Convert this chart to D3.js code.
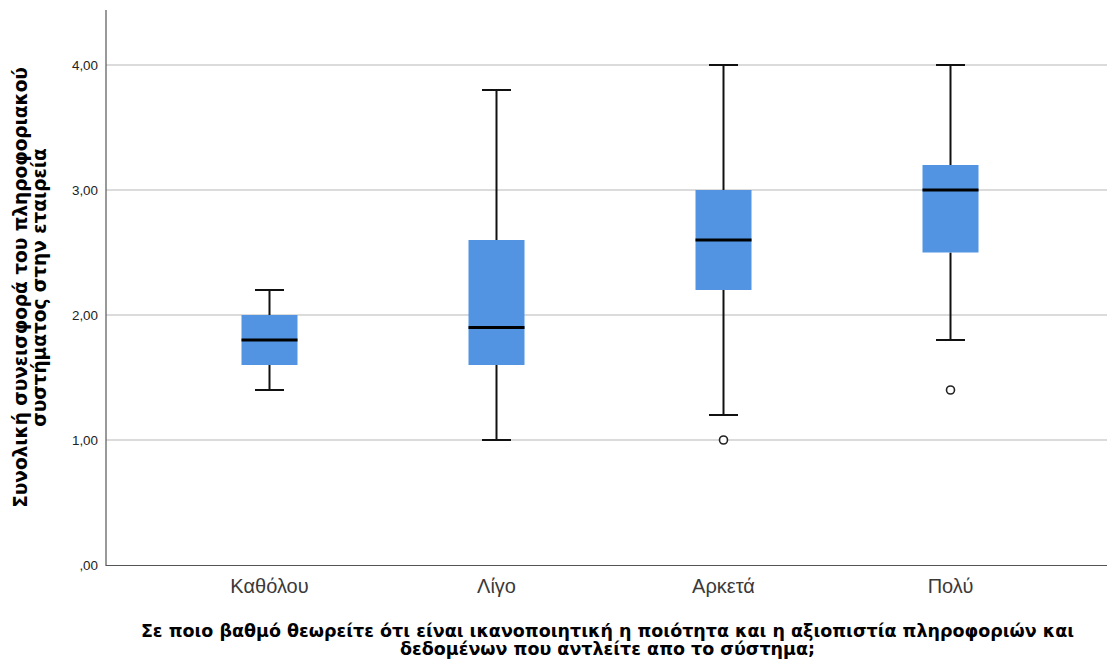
<!DOCTYPE html>
<html>
<head>
<meta charset="utf-8">
<script src="https://cdn.jsdelivr.net/npm/d3@7/dist/d3.min.js"></script>
<style>
  html, body { margin: 0; padding: 0; background: #fff; }
  svg { display: block; font-family: "Liberation Sans", Arial, sans-serif; }
</style>
</head>
<body>
<svg id="chart" width="1107" height="666"></svg>
<script>
// Response groups on the x axis
const categories = ["Καθόλου", "Λίγο", "Αρκετά", "Πολύ"];
// Five-number summaries per group
const whiskerLow  = [1.4, 1.0, 1.2, 1.8];
const q1          = [1.6, 1.6, 2.2, 2.5];
const median      = [1.8, 1.9, 2.6, 3.0];
const q3          = [2.0, 2.6, 3.0, 3.2];
const whiskerHigh = [2.2, 3.8, 4.0, 4.0];
// Outliers: [group index, value]
const outliers = [[2, 1.0], [3, 1.4]];
// Y axis ticks
const yTicks = [0, 1, 2, 3, 4];
const yTickLabels = [",00", "1,00", "2,00", "3,00", "4,00"];

const xTitle = [
  "Σε ποιο βαθμό θεωρείτε ότι είναι ικανοποιητική η ποιότητα και η αξιοπιστία πληροφοριών και",
  "δεδομένων που αντλείτε απο το σύστημα;"
];
const yTitle = [
  "Συνολική συνεισφορά του πληροφοριακού",
  "συστήματος στην εταιρεία"
];

const svg = d3.select("#chart");
const plotLeft = 106, plotRight = 1107, plotTop = 10, plotBottom = 565;
const titleFont = "'DejaVu Sans', 'Liberation Sans', Arial, sans-serif";

const x = d3.scaleBand().domain(categories).range([156, 1064]).padding(0);
const y = d3.scaleLinear().domain([0, 4.44]).range([plotBottom, plotBottom - 4.44 * 125]);

const boxW = 56, capW = 29;

// gridlines
svg.append("g")
  .selectAll("line")
  .data(yTicks.filter(d => d > 0))
  .join("line")
  .attr("x1", plotLeft).attr("x2", plotRight)
  .attr("y1", d => y(d)).attr("y2", d => y(d))
  .attr("stroke", "#cfcfcf").attr("stroke-width", 1.5);

// y axis with text tick labels
const yAxis = d3.axisLeft(y)
  .tickValues(yTicks)
  .tickSize(0)
  .tickPadding(8)
  .tickFormat((d, i) => yTickLabels[i]);
const gy = svg.append("g").attr("transform", `translate(${plotLeft},0)`).call(yAxis);
gy.select(".domain").remove();
gy.selectAll("text").attr("font-size", 13.4).attr("fill", "#222")
  .style("font-family", "'Liberation Sans', Arial, sans-serif");

// x axis labels
const xAxis = d3.axisBottom(x).tickSize(0).tickPadding(14);
const gx = svg.append("g").attr("transform", `translate(0,${plotBottom})`).call(xAxis);
gx.select(".domain").remove();
gx.selectAll("text").attr("font-size", 20).attr("fill", "#3a3a3a")
  .style("font-family", "'Liberation Sans', Arial, sans-serif");

// frame lines
svg.append("line")
  .attr("x1", plotLeft).attr("x2", plotLeft)
  .attr("y1", plotTop).attr("y2", plotBottom + 1)
  .attr("stroke", "#555").attr("stroke-width", 1.2);
svg.append("line")
  .attr("x1", plotLeft).attr("x2", plotRight)
  .attr("y1", plotBottom + 0.5).attr("y2", plotBottom + 0.5)
  .attr("stroke", "#555").attr("stroke-width", 1.2);

// boxes
const groups = categories.map((c, i) => ({
  c, lo: whiskerLow[i], q1: q1[i], med: median[i], q3: q3[i], hi: whiskerHigh[i]
}));
const g = svg.append("g")
  .selectAll("g")
  .data(groups)
  .join("g")
  .attr("transform", d => `translate(${x(d.c) + x.bandwidth() / 2},0)`);

// whisker stems
g.append("line")
  .attr("x1", 0).attr("x2", 0)
  .attr("y1", d => y(d.hi)).attr("y2", d => y(d.q3))
  .attr("stroke", "#111").attr("stroke-width", 2);
g.append("line")
  .attr("x1", 0).attr("x2", 0)
  .attr("y1", d => y(d.q1)).attr("y2", d => y(d.lo))
  .attr("stroke", "#111").attr("stroke-width", 2);
// caps
g.append("line")
  .attr("x1", -capW / 2).attr("x2", capW / 2)
  .attr("y1", d => y(d.hi)).attr("y2", d => y(d.hi))
  .attr("stroke", "#111").attr("stroke-width", 2);
g.append("line")
  .attr("x1", -capW / 2).attr("x2", capW / 2)
  .attr("y1", d => y(d.lo)).attr("y2", d => y(d.lo))
  .attr("stroke", "#111").attr("stroke-width", 2);
// box body
g.append("rect")
  .attr("x", -boxW / 2).attr("width", boxW)
  .attr("y", d => y(d.q3)).attr("height", d => y(d.q1) - y(d.q3))
  .attr("fill", "#5294e2");
// median
g.append("line")
  .attr("x1", -boxW / 2).attr("x2", boxW / 2)
  .attr("y1", d => y(d.med)).attr("y2", d => y(d.med))
  .attr("stroke", "#000").attr("stroke-width", 3);

// outliers
svg.append("g")
  .selectAll("circle")
  .data(outliers)
  .join("circle")
  .attr("cx", d => x(categories[d[0]]) + x.bandwidth() / 2)
  .attr("cy", d => y(d[1]))
  .attr("r", 4)
  .attr("fill", "#fff")
  .attr("stroke", "#222")
  .attr("stroke-width", 1.6);

// axis titles
svg.append("text")
  .attr("text-anchor", "middle")
  .style("font-family", titleFont)
  .attr("font-size", 17.5).attr("font-weight", "bold").attr("fill", "#000")
  .selectAll("tspan")
  .data(xTitle)
  .join("tspan")
  .attr("x", (plotLeft + plotRight) / 2 + 1)
  .attr("y", (d, i) => 637 + i * 18)
  .text(d => d);

svg.append("text")
  .attr("text-anchor", "middle")
  .style("font-family", titleFont)
  .attr("font-size", 18.5).attr("font-weight", "bold").attr("fill", "#000")
  .attr("transform", `translate(0,${(plotTop + plotBottom) / 2}) rotate(-90)`)
  .selectAll("tspan")
  .data(yTitle)
  .join("tspan")
  .attr("x", 0)
  .attr("y", (d, i) => 27 + i * 18.5)
  .text(d => d);
</script>
</body>
</html>
